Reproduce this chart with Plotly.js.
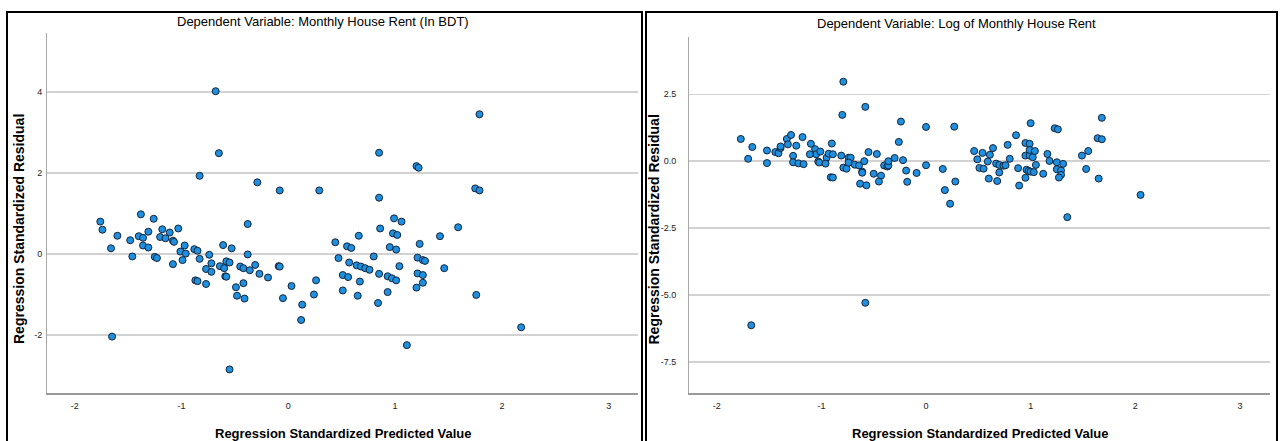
<!DOCTYPE html>
<html>
<head>
<meta charset="utf-8">
<script src="https://cdn.plot.ly/plotly-3.0.1.min.js"></script>
<style>html,body{margin:0;padding:0;background:#fff;}#chart{width:1282px;height:441px;}</style>
</head>
<body>
<div id="chart"></div>
<script>
// ---- Data: left panel (Monthly House Rent in BDT) ----
const leftPredicted = [-1.76,-1.74,-1.66,-1.60,-1.48,-1.46,-1.38,-1.40,-1.36,-1.36,-1.31,-1.31,-1.26,-1.25,-1.23,-1.20,-1.18,-1.15,-1.11,-1.08,-1.07,-1.08,-1.03,-1.01,-0.97,-0.96,-0.99,-0.88,-0.85,-0.83,-0.87,-0.85,-0.77,-0.77,-0.74,-0.72,-0.72,-0.64,-0.61,-0.60,-0.59,-0.58,-0.58,-0.55,-0.53,-0.49,-0.48,-0.45,-0.42,-0.42,-0.41,-0.38,-0.38,-0.36,-0.31,-0.27,-0.19,-0.09,-0.08,-0.05,0.03,0.13,0.12,0.24,0.26,-1.65,-0.55,-0.83,-0.68,-0.65,-0.29,-0.08,0.29,1.79,0.85,1.20,1.22,0.85,1.75,1.79,0.99,1.06,0.86,1.59,0.66,0.98,1.02,1.42,0.44,0.55,0.59,0.95,1.01,1.23,0.47,0.80,1.21,1.26,1.28,0.57,0.64,0.68,0.72,0.76,1.04,1.46,0.51,0.56,0.85,0.93,0.97,1.01,1.21,1.26,1.26,0.67,0.51,0.65,0.93,1.20,0.84,1.76,1.11,2.18];
const leftResidual = [0.80,0.60,0.14,0.45,0.34,-0.06,0.98,0.44,0.40,0.21,0.55,0.16,0.87,-0.07,-0.10,0.42,0.61,0.39,0.53,0.33,0.30,-0.25,0.63,0.06,0.21,0.01,-0.15,0.12,0.08,-0.12,-0.65,-0.67,-0.74,-0.37,-0.02,-0.23,-0.44,-0.30,0.22,-0.35,-0.55,-0.56,-0.18,-0.21,0.14,-0.82,-1.03,-0.31,-0.35,-0.72,-1.10,0.74,-0.01,-0.40,-0.27,-0.49,-0.58,-0.30,-0.31,-1.09,-0.79,-1.25,-1.63,-1.00,-0.65,-2.04,-2.85,1.93,4.02,2.49,1.77,1.57,1.57,3.45,2.50,2.17,2.13,1.39,1.62,1.57,0.88,0.80,0.63,0.66,0.45,0.51,0.47,0.44,0.29,0.19,0.15,0.17,0.11,0.25,-0.10,-0.06,-0.09,-0.15,-0.17,-0.21,-0.28,-0.31,-0.35,-0.39,-0.30,-0.35,-0.52,-0.57,-0.49,-0.55,-0.60,-0.65,-0.48,-0.52,-0.71,-0.68,-0.90,-1.03,-0.94,-0.83,-1.21,-1.01,-2.25,-1.81];

// ---- Data: right panel (Log of Monthly House Rent) ----
const rightPredicted = [-1.77,-1.66,-1.70,-1.52,-1.52,-1.44,-1.41,-1.39,-1.39,-1.33,-1.29,-1.32,-1.24,-1.18,-1.27,-1.27,-1.22,-1.17,-1.10,-1.06,-1.05,-1.01,-1.11,-1.03,-1.02,-0.95,-0.96,-0.93,-0.90,-0.89,-0.91,-0.89,-0.81,-0.74,-0.72,-0.79,-0.76,-0.74,-0.68,-0.64,-0.59,-0.61,-0.61,-0.55,-0.47,-0.63,-0.57,-0.50,-0.43,-0.45,-0.40,-0.37,-0.36,-0.36,-0.30,-0.26,-0.24,-0.22,-0.19,-0.18,-0.09,0.00,0.00,0.16,0.18,0.27,0.28,-0.79,-0.80,-0.58,0.23,0.46,0.49,0.51,0.55,0.54,0.59,0.61,0.64,0.60,0.68,0.67,0.70,0.70,0.74,0.76,0.78,0.80,0.86,0.89,0.88,0.95,0.99,1.00,0.95,0.99,1.02,0.99,1.04,0.96,0.98,1.00,1.03,0.95,1.05,1.12,1.16,1.18,1.23,1.26,1.25,1.31,1.25,1.29,1.29,1.27,1.49,1.55,1.53,1.65,1.64,1.68,1.68,2.05,1.35,-1.67,-0.58];
const rightResidual = [0.83,0.53,0.09,0.40,-0.07,0.34,0.30,0.49,0.55,0.83,0.98,0.63,0.58,0.90,0.20,-0.04,-0.08,-0.11,0.65,0.45,0.26,0.36,0.26,-0.01,-0.05,0.13,-0.09,0.28,0.66,0.26,-0.60,-0.61,0.21,0.13,0.13,-0.24,-0.28,-0.05,-0.13,-0.16,0.00,-0.39,-0.43,0.34,0.27,-0.84,-0.90,-0.47,-0.54,-0.76,-0.16,-0.20,-0.16,0.00,0.12,0.72,1.48,0.04,-0.35,-0.77,-0.44,1.28,-0.15,-0.29,-1.08,1.29,-0.76,2.97,1.73,2.03,-1.59,0.38,0.07,-0.25,-0.28,0.31,-0.01,0.24,0.49,-0.65,-0.74,-0.09,-0.14,-0.42,-0.17,-0.15,0.61,0.09,0.97,-0.91,-0.26,0.68,0.65,1.42,0.21,0.21,0.15,0.42,0.38,-0.32,-0.36,-0.39,-0.41,-0.62,-0.14,-0.47,0.27,0.01,1.23,1.19,-0.04,-0.10,-0.30,-0.35,-0.51,-0.61,0.21,0.38,-0.29,-0.65,0.86,0.82,1.62,-1.26,-2.09,-6.13,-5.29];

// ---- Tick labels ----
const xTickVals = [-2,-1,0,1,2,3];
const xTickText = ["-2","-1","0","1","2","3"];
const leftYTickVals = [-2,0,2,4];
const leftYTickText = ["-2","0","2","4"];
const rightYTickVals = [-7.5,-5,-2.5,0,2.5];
const rightYTickText = ["-7.5","-5.0","-2.5","0.0","2.5"];

const leftTitle = "Dependent Variable: Monthly House Rent (In BDT)";
const rightTitle = "Dependent Variable: Log of Monthly House Rent";
const xTitle = "Regression Standardized Predicted Value";
const yTitle = "Regression Standardized Residual";

// ---- Layout helpers (pixel -> paper fraction) ----
const W = 1282, H = 441;
const fx = p => p / W;
const fy = p => 1 - p / H;

const FONT = "'Liberation Sans Narrow', 'Arial Narrow', 'Liberation Sans', Arial, sans-serif";
const tickFont = {family: FONT, size: 9, color: '#222'};

const marker = {size: 7, color: '#1f8fdf', line: {color: '#14243a', width: 1}};

const traces = [
  {x: leftPredicted, y: leftResidual, type: 'scatter', mode: 'markers', marker: marker, xaxis: 'x', yaxis: 'y', hoverinfo: 'x+y'},
  {x: rightPredicted, y: rightResidual, type: 'scatter', mode: 'markers', marker: marker, xaxis: 'x2', yaxis: 'y2', hoverinfo: 'x+y'}
];

function xAxis(dom, rng, anchor) {
  return {domain: dom, range: rng, anchor: anchor, tickmode: 'array', tickvals: xTickVals, ticktext: xTickText,
    showgrid: false, zeroline: false, showline: true, linecolor: '#9a9a9a', linewidth: 2, ticks: '',
    tickfont: tickFont, ticklabelstandoff: 3, fixedrange: true};
}
function yAxis(dom, rng, anchor, vals, text, standoff) {
  return {domain: dom, range: rng, anchor: anchor, tickmode: 'array', tickvals: vals, ticktext: text,
    showgrid: true, gridcolor: '#d2d2d2', gridwidth: 1.5, zeroline: false, showline: true,
    linecolor: '#a8a8a8', linewidth: 1, ticks: '', tickfont: tickFont, ticklabelstandoff: standoff, fixedrange: true};
}

const layout = {
  width: W, height: H,
  margin: {l: 0, r: 0, t: 0, b: 0},
  paper_bgcolor: '#fff', plot_bgcolor: '#fff',
  showlegend: false,
  xaxis: xAxis([fx(47), fx(638)], [-2.259, 3.274], 'y'),
  yaxis: yAxis([fy(393), fy(33)], [-3.432, 5.457], 'x', leftYTickVals, leftYTickText, 2),
  xaxis2: xAxis([fx(689), fx(1270)], [-2.265, 3.287], 'y2'),
  yaxis2: yAxis([fy(393), fy(37)], [-8.66, 4.64], 'x2', rightYTickVals, rightYTickText, 10),
  shapes: [
    {type: 'rect', xref: 'paper', yref: 'paper', x0: fx(7), x1: fx(642), y0: -0.05, y1: fy(12), line: {color: '#000', width: 2}},
    {type: 'rect', xref: 'paper', yref: 'paper', x0: fx(646), x1: fx(1277), y0: -0.05, y1: fy(12), line: {color: '#000', width: 2}}
  ],
  annotations: [
    {text: leftTitle, xref: 'paper', yref: 'paper', x: fx(323), y: fy(22), xanchor: 'center', yanchor: 'middle', showarrow: false, font: {family: FONT, size: 13, color: '#000'}},
    {text: rightTitle, xref: 'paper', yref: 'paper', x: fx(956), y: fy(24), xanchor: 'center', yanchor: 'middle', showarrow: false, font: {family: FONT, size: 13, color: '#000'}},
    {text: '<b>' + xTitle + '</b>', xref: 'paper', yref: 'paper', x: fx(342.5), y: fy(433), xanchor: 'center', yanchor: 'middle', showarrow: false, font: {family: FONT, size: 13, color: '#000'}},
    {text: '<b>' + xTitle + '</b>', xref: 'paper', yref: 'paper', x: fx(979.5), y: fy(433), xanchor: 'center', yanchor: 'middle', showarrow: false, font: {family: FONT, size: 13, color: '#000'}},
    {text: '<b>' + yTitle + '</b>', xref: 'paper', yref: 'paper', x: fx(18.5), y: fy(229.5), xanchor: 'center', yanchor: 'middle', textangle: -90, showarrow: false, font: {family: FONT, size: 14, color: '#000'}},
    {text: '<b>' + yTitle + '</b>', xref: 'paper', yref: 'paper', x: fx(653), y: fy(229.5), xanchor: 'center', yanchor: 'middle', textangle: -90, showarrow: false, font: {family: FONT, size: 14, color: '#000'}}
  ]
};

Plotly.newPlot('chart', traces, layout, {displayModeBar: false, staticPlot: true});
</script>
</body>
</html>
